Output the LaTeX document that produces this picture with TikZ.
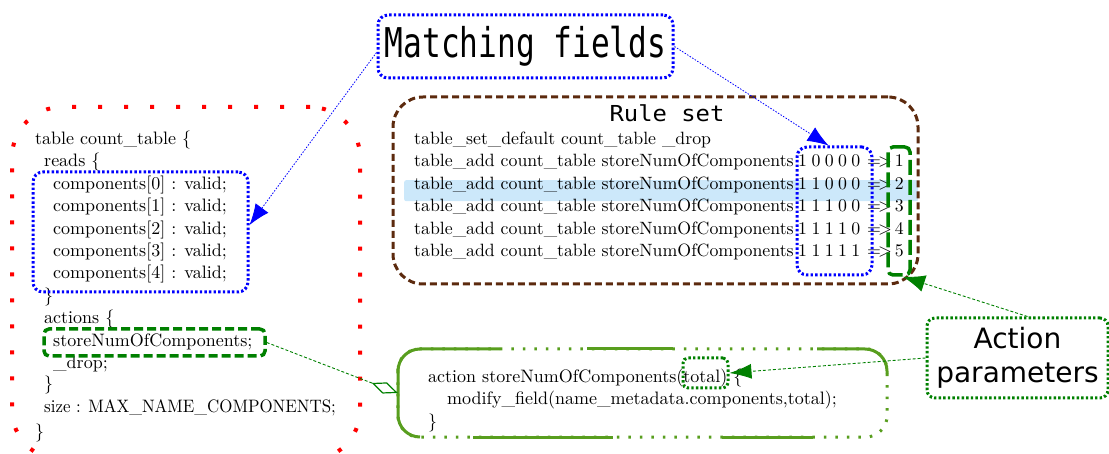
\documentclass[tikz,border=0pt]{standalone}
\usepackage{fontspec}
\usepackage{graphicx}
\setmainfont{lmroman10-regular.otf}
\newfontfamily\monof{DejaVu Sans Mono}
\newfontfamily\apsans{DejaVu Sans}
\usetikzlibrary{arrows.meta}
\definecolor{brownc}{RGB}{92,42,14}
\definecolor{actgreen}{RGB}{88,158,30}
\definecolor{dgreen}{RGB}{0,128,0}
\definecolor{hlblue}{RGB}{204,232,250}
\newcommand{\arr}{=\kern-3pt>}
\newcommand{\bitrow}[5]{#1\kern4.4pt#2\kern4.4pt#3\kern4.4pt#4\kern4.4pt#5}
\tikzset{
  codetxt/.style={anchor=base west, inner sep=0pt, font=\fontsize{18}{22}\selectfont},
  ruletxt/.style={anchor=base west, inner sep=0pt, font=\fontsize{17.8}{22}\selectfont},
  boxnode/.style={inner sep=0pt},
  reddot/.style={draw=red, line width=4pt, dash pattern=on 4pt off 22pt, rounded corners=50pt},
  bluedot/.style={draw=blue, line width=3pt, dash pattern=on 2.4pt off 2.2pt, rounded corners=10pt},
  browndash/.style={draw=brownc, line width=3pt, dash pattern=on 7pt off 4pt, rounded corners=30pt},
  greendash/.style={draw=dgreen, line width=3.5pt, dash pattern=on 9pt off 4pt, rounded corners=5pt},
  greenlong/.style={draw=dgreen, line width=3.5pt, dash pattern=on 15pt off 5pt, rounded corners=5pt},
  greendot/.style={draw=dgreen, line width=3pt, dash pattern=on 2.4pt off 2.2pt, rounded corners=8pt},
  actline/.style={draw=actgreen, line width=3pt},
  bluecon/.style={draw=blue, line width=0.8pt, dash pattern=on 1.5pt off 1.5pt},
  greencon/.style={draw=dgreen, line width=0.9pt, dash pattern=on 3pt off 2pt},
}
\begin{document}
\begin{tikzpicture}[x=1pt,y=-1pt]
\useasboundingbox (0,0) rectangle (1109,454);
\clip (0,0) rectangle (1109,454);

% ---------------- left table box
\node[boxnode, reddot, minimum width=348pt, minimum height=353pt, anchor=north west] (tbl) at (10,105) {};
\node[codetxt] (c1) at (35,145) {table count\_table \{};
\node[codetxt] (c2) at (44,167) {reads \{};
\node[codetxt] (c3) at (53,190) {components[0] : valid;};
\node[codetxt] (c4) at (53,212) {components[1] : valid;};
\node[codetxt] (c5) at (53,235) {components[2] : valid;};
\node[codetxt] (c6) at (53,257) {components[3] : valid;};
\node[codetxt] (c7) at (53,279) {components[4] : valid;};
\node[codetxt] (c8) at (44,302) {\}};
\node[codetxt] (c9) at (44,324) {actions \{};
\node[codetxt] (c10) at (53,347) {storeNumOfComponents;};
\node[codetxt] (c11) at (53,369) {\_drop;};
\node[codetxt] (c12) at (44,390) {\}};
\node[codetxt] (c13) at (44,413) {\scalebox{0.94}[1]{size : MAX\_NAME\_COMPONENTS;}};
\node[codetxt] (c14) at (35,437) {\}};
\node[boxnode, bluedot, minimum width=215pt, minimum height=120pt] (mfl) at (140.5,232) {};
\node[boxnode, greendash, minimum width=221pt, minimum height=27pt] (sn) at (154.5,342.5) {};

% ---------------- rule set
\node[boxnode, fill=hlblue, minimum width=514pt, minimum height=21pt, anchor=north west, rounded corners=2pt] (hlrow) at (404,180) {};
\node[boxnode, browndash, minimum width=525pt, minimum height=187pt] (rules) at (655.5,190.5) {};
\node[anchor=base, inner sep=0pt] (rstitle) at (667,122) {\scalebox{1.085}[1]{\fontsize{22}{24}\monof Rule set}};
\node[ruletxt] (r1) at (414,145) {table\_set\_default count\_table \_drop};
\node[ruletxt] (r2) at (414,167) {table\_add count\_table storeNumOfComponents};
\node[ruletxt] (r3) at (414,190) {table\_add count\_table storeNumOfComponents};
\node[ruletxt] (r4) at (414,212) {table\_add count\_table storeNumOfComponents};
\node[ruletxt] (r5) at (414,235) {table\_add count\_table storeNumOfComponents};
\node[ruletxt] (r6) at (414,257) {table\_add count\_table storeNumOfComponents};
\node[ruletxt] (b2) at (798,167) {\bitrow10000};
\node[ruletxt] (b3) at (798,190) {\bitrow11000};
\node[ruletxt] (b4) at (798,212) {\bitrow11100};
\node[ruletxt] (b5) at (798,235) {\bitrow11110};
\node[ruletxt] (b6) at (798,257) {\bitrow11111};
\node[ruletxt] (v2) at (867,167) {\arr\kern3pt 1};
\node[ruletxt] (v3) at (867,190) {\arr\kern3pt 2};
\node[ruletxt] (v4) at (867,212) {\arr\kern3pt 3};
\node[ruletxt] (v5) at (867,235) {\arr\kern3pt 4};
\node[ruletxt] (v6) at (867,257) {\arr\kern3pt 5};
\node[boxnode, bluedot, minimum width=75pt, minimum height=128pt] (mfr) at (834.5,211) {};
\node[boxnode, greenlong, minimum width=22pt, minimum height=128pt] (ap) at (899,211) {};

% ---------------- action box
\node[boxnode, minimum width=489pt, minimum height=88pt] (act) at (642.5,393) {};
\draw[actline, dash pattern=on 2.5pt off 9pt, rounded corners=22pt] (act.north west) rectangle (act.south east);
\draw[actline, rounded corners=22pt] (420,437) -- (398,437) -- (398,349) -- (500,349);
\draw[actline] (587,349) -- (673,349);
\draw[actline, rounded corners=22pt] (817,349) -- (887,349) -- (887,374);
\draw[actline] (473,437) -- (613,437);
\draw[actline] (722,437) -- (813,437);
\node[codetxt] (a1) at (428,382) {action storeNumOfComponents(total) \{};
\node[codetxt] (a2) at (447,405) {modify\_field(name\_metadata.components,total);};
\node[codetxt] (a3) at (428,427) {\}};
\node[boxnode, greendot, minimum width=45pt, minimum height=30pt, rounded corners=5pt] (tot) at (705.5,373) {};

% ---------------- callouts
\node[boxnode, bluedot, minimum width=295pt, minimum height=63pt] (mf) at (525.5,46.5) {\scalebox{0.76}[1]{\fontsize{41}{41}\monof Matching fields}};
\node[boxnode, greendot, minimum width=181pt, minimum height=80pt, align=center, font=\fontsize{28}{34}\apsans] (aparam) at (1017.5,358) {Action\\parameters};

% ---------------- connectors
\draw[bluecon, -{Latex[length=21pt,width=16pt]}] (mf.east) -- ([xshift=-6pt]mfr.north);
\draw[bluecon, -{Latex[length=21pt,width=16pt]}] ([yshift=-6pt]mf.west) -- ([yshift=7pt]mfl.east);
\draw[greencon, -{Diamond[open,length=28pt,width=12pt,line width=1.2pt]}] (sn.east) -- (act.west);
\draw[greencon, -{Latex[length=22pt,width=17pt]}] ([xshift=10pt]aparam.north) -- ([xshift=4pt]ap.south);
\draw[greencon, -{Latex[length=22pt,width=15pt]}] (aparam.west) -- (tot.east);
\end{tikzpicture}
\end{document}
